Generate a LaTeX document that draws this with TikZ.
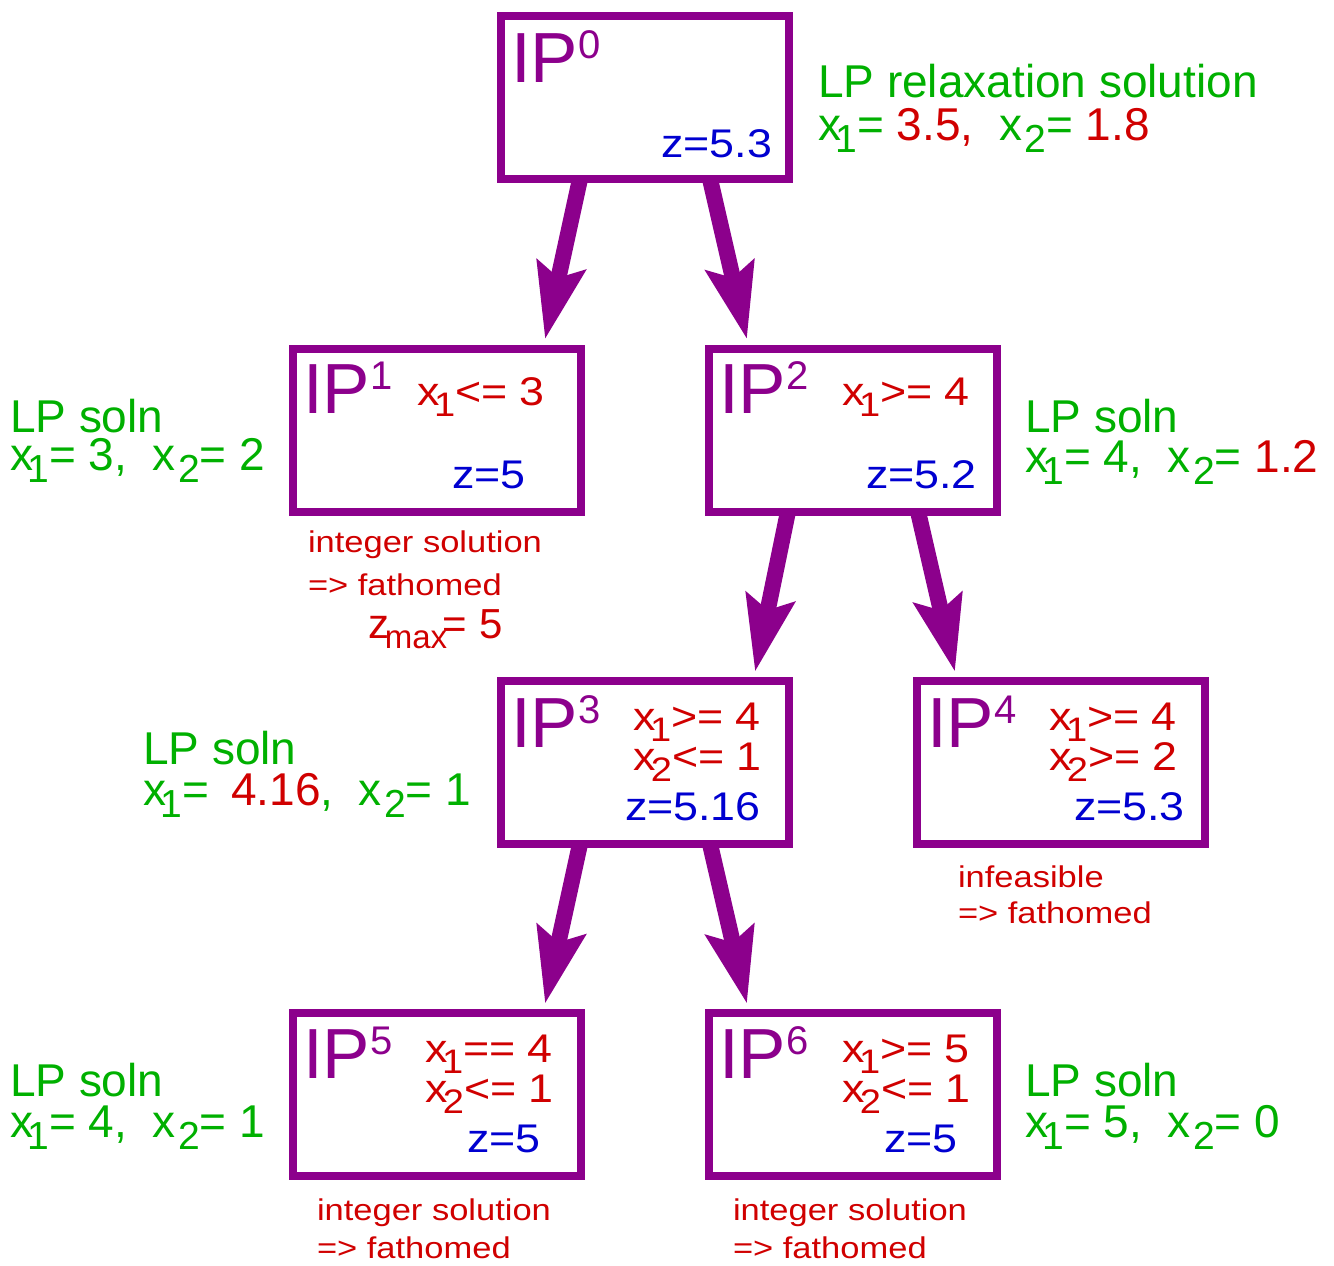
\documentclass[tikz,border=0pt]{standalone}
\usepackage{fontspec}
\setmainfont{Liberation Sans}
\usetikzlibrary{arrows.meta}
\definecolor{ipurple}{RGB}{140,0,140}
\definecolor{igreen}{RGB}{0,176,0}
\definecolor{ired}{RGB}{208,0,0}
\definecolor{iblue}{RGB}{0,0,208}
\newcommand\Tx[3]{\scalebox{#1}[1]{\fontsize{#2pt}{#2pt}\selectfont #3}}
\newcommand\xo{x\kern-0.12em\raisebox{-0.28em}{\scalebox{0.85}{1}}}
\newcommand\xt{x\kern-0.1em\raisebox{-0.28em}{\scalebox{0.85}{2}}}
\newcommand\xtw{x\kern0.05em\raisebox{-0.28em}{\scalebox{0.85}{2}}}
\newcommand\IPn[1]{\fontsize{71pt}{71pt}\selectfont IP\raisebox{24pt}{\fontsize{40pt}{40pt}\selectfont #1}}
\tikzset{
  ipbox/.style={draw=ipurple, line width=8pt, fill=none, minimum width=288pt, minimum height=163pt, inner sep=0pt},
  bigarrow/.style={draw=ipurple, fill=ipurple, line width=16pt, -{Stealth[length=75pt,width=48pt,inset=12pt]}},
  txt/.style={inner sep=0pt, outer sep=0pt, anchor=base west},
  txtr/.style={inner sep=0pt, outer sep=0pt, anchor=base east},
}
\newcommand\boxt[1]{\Tx{1.12}{40}{#1}}
\newcommand\outt[1]{\Tx{1.0}{46}{#1}}
\newcommand\fatht[1]{\Tx{1.15}{30}{#1}}
\begin{document}
\begin{tikzpicture}[x=1pt,y=-1pt]
\useasboundingbox (0,0) rectangle (1334,1266);
% boxes
\node[ipbox] (ip0) at (645,97.5) {};
\node[ipbox] (ip1) at (437,430) {};
\node[ipbox] (ip2) at (853,430) {};
\node[ipbox] (ip3) at (645,762.5) {};
\node[ipbox] (ip4) at (1061,762.5) {};
\node[ipbox] (ip5) at (437,1094.5) {};
\node[ipbox] (ip6) at (853,1094.5) {};
% arrows
\draw[bigarrow] ([xshift=-65pt,yshift=4pt]ip0.south) -- ([xshift=108pt,yshift=5pt]ip1.north);
\draw[bigarrow] ([xshift=65pt,yshift=4pt]ip0.south) -- ([xshift=-106pt,yshift=5pt]ip2.north);
\draw[bigarrow] ([xshift=-65pt,yshift=4pt]ip2.south) -- ([xshift=110pt,yshift=5pt]ip3.north);
\draw[bigarrow] ([xshift=65pt,yshift=4pt]ip2.south) -- ([xshift=-106pt,yshift=5pt]ip4.north);
\draw[bigarrow] ([xshift=-65pt,yshift=4pt]ip3.south) -- ([xshift=108pt,yshift=5pt]ip5.north);
\draw[bigarrow] ([xshift=65pt,yshift=4pt]ip3.south) -- ([xshift=-106pt,yshift=5pt]ip6.north);
% IP0
\node[txt,text=ipurple] (ip0n) at (511,82) {\IPn{0}};
\node[txtr,text=iblue] (ip0z) at (772,157) {\boxt{z=5.3}};
\node[txt,text=igreen] (lp0a) at (818,97) {\outt{LP relaxation solution}};
\node[txt,text=igreen] (lp0b) at (818,140) {\outt{\xo=\ \textcolor{ired}{3.5,}\ \ \xtw=\ \textcolor{ired}{1.8}}};
% IP1
\node[txt,text=ipurple] (ip1n) at (303,413) {\IPn{1}};
\node[txt,text=ired] (ip1c) at (417,405) {\boxt{\xo<=\ 3}};
\node[txt,text=iblue] (ip1z) at (452,488) {\boxt{z=5}};
\node[txt,text=igreen] (lp1a) at (10,432) {\outt{LP soln}};
\node[txt,text=igreen] (lp1b) at (10,470) {\outt{\xo=\ 3,\ \ \xtw=\ 2}};
\node[txt,text=ired] (f1a) at (308,552) {\fatht{integer solution}};
\node[txt,text=ired] (f1b) at (308,595) {\fatht{=> fathomed}};
\node[txt,text=ired] (f1c) at (368,638) {\fontsize{42pt}{42pt}\selectfont z\kern-0.1em\raisebox{-10pt}{\fontsize{33pt}{33pt}\selectfont max}\kern-0.1em=\ 5};
% IP2
\node[txt,text=ipurple] (ip2n) at (719,413) {\IPn{2}};
\node[txt,text=ired] (ip2c) at (842,405) {\boxt{\xo>=\ 4}};
\node[txt,text=iblue] (ip2z) at (866,488) {\boxt{z=5.2}};
\node[txt,text=igreen] (lp2a) at (1025,432) {\outt{LP soln}};
\node[txt,text=igreen] (lp2b) at (1025,472) {\outt{\xo=\ 4,\ \ \xtw=\ \textcolor{ired}{1.2}}};
% IP3
\node[txt,text=ipurple] (ip3n) at (511,747) {\IPn{3}};
\node[txt,text=ired] (ip3c) at (633,730) {\boxt{\xo>=\ 4}};
\node[txt,text=ired] (ip3d) at (633,770) {\boxt{\xt<=\ 1}};
\node[txt,text=iblue] (ip3z) at (625,820) {\boxt{z=5.16}};
\node[txt,text=igreen] (lp3a) at (143,764) {\outt{LP soln}};
\node[txt,text=igreen] (lp3b) at (143,805) {\outt{\xo=\kern0.2em\ \textcolor{ired}{4.16},\ \ \xtw=\ 1}};
% IP4
\node[txt,text=ipurple] (ip4n) at (927,747) {\IPn{4}};
\node[txt,text=ired] (ip4c) at (1049,730) {\boxt{\xo>=\ 4}};
\node[txt,text=ired] (ip4d) at (1049,770) {\boxt{\xt>=\ 2}};
\node[txt,text=iblue] (ip4z) at (1074,820) {\boxt{z=5.3}};
\node[txt,text=ired] (f4a) at (958,887) {\fatht{infeasible}};
\node[txt,text=ired] (f4b) at (958,923) {\fatht{=> fathomed}};
% IP5
\node[txt,text=ipurple] (ip5n) at (303,1078) {\IPn{5}};
\node[txt,text=ired] (ip5c) at (425,1062) {\boxt{\xo==\ 4}};
\node[txt,text=ired] (ip5d) at (425,1102) {\boxt{\xt<=\ 1}};
\node[txt,text=iblue] (ip5z) at (467,1152) {\boxt{z=5}};
\node[txt,text=igreen] (lp5a) at (10,1096) {\outt{LP soln}};
\node[txt,text=igreen] (lp5b) at (10,1137) {\outt{\xo=\ 4,\ \ \xtw=\ 1}};
\node[txt,text=ired] (f5a) at (317,1220) {\fatht{integer solution}};
\node[txt,text=ired] (f5b) at (317,1258) {\fatht{=> fathomed}};
% IP6
\node[txt,text=ipurple] (ip6n) at (719,1078) {\IPn{6}};
\node[txt,text=ired] (ip6c) at (842,1062) {\boxt{\xo>=\ 5}};
\node[txt,text=ired] (ip6d) at (842,1102) {\boxt{\xt<=\ 1}};
\node[txt,text=iblue] (ip6z) at (884,1152) {\boxt{z=5}};
\node[txt,text=igreen] (lp6a) at (1025,1096) {\outt{LP soln}};
\node[txt,text=igreen] (lp6b) at (1025,1137) {\outt{\xo=\ 5,\ \ \xtw=\ 0}};
\node[txt,text=ired] (f6a) at (733,1220) {\fatht{integer solution}};
\node[txt,text=ired] (f6b) at (733,1258) {\fatht{=> fathomed}};
\end{tikzpicture}
\end{document}
